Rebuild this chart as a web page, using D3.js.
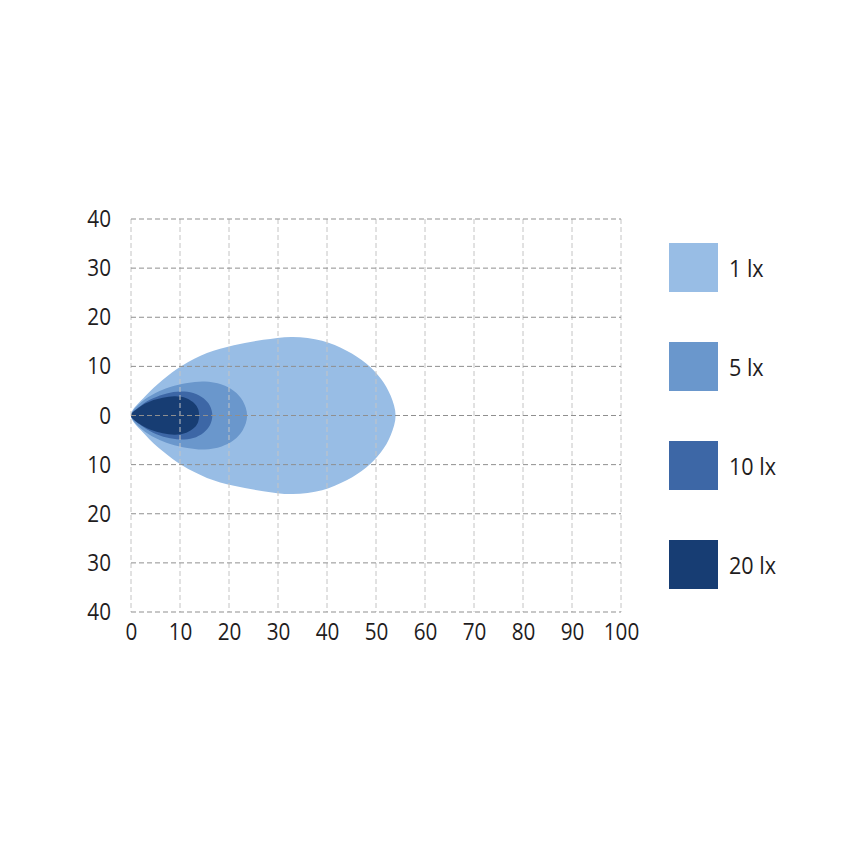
<!DOCTYPE html>
<html>
<head>
<meta charset="utf-8">
<script src="https://cdn.jsdelivr.net/npm/d3@7"></script>
<style>
  html, body { margin: 0; padding: 0; background: #ffffff; }
  svg { display: block; }
  text { font-family: "Open Sans", "Lato", sans-serif; fill: #1f1d1e; }
</style>
</head>
<body>
<svg id="chart" width="854" height="854"></svg>
<script>
// ---- data ----
const levels = ["1 lx", "5 lx", "10 lx", "20 lx"];
const colors = ["#98bde5", "#6a97cc", "#3d67a6", "#173d73"];
const xTicks = [0, 10, 20, 30, 40, 50, 60, 70, 80, 90, 100];
const yTicks = [-40, -30, -20, -10, 0, 10, 20, 30, 40];

// upper half outline of each isolux zone (symmetric about y = 0)
const lx1X  = [0, 2.9, 6.5, 10.5, 15.5, 21, 27, 33, 39, 44, 48, 51, 53, 54];
const lx1Y  = [0, 3.9, 7.3, 10.2, 12.7, 14.3, 15.4, 16.0, 15.2, 13.2, 10.6, 7.5, 4.0, 0];
const lx5X  = [0, 2.2, 5, 8, 11.5, 15, 18.5, 21, 22.8, 23.7];
const lx5Y  = [0, 2.8, 4.6, 5.8, 6.6, 6.9, 6.3, 5.0, 3.0, 0];
const lx10X = [0, 2, 4.5, 7.3, 10, 12.7, 14.8, 16.1, 16.6];
const lx10Y = [0, 2.0, 3.5, 4.5, 4.9, 4.6, 3.5, 2.0, 0];
const lx20X = [0, 1.7, 4, 6.5, 9, 11.3, 13, 13.7, 13.9];
const lx20Y = [0, 1.7, 2.9, 3.6, 3.9, 3.5, 2.4, 1.3, 0];

const profilesX = [lx1X, lx5X, lx10X, lx20X];
const profilesY = [lx1Y, lx5Y, lx10Y, lx20Y];

// ---- chart ----
const SX = 0.88; // horizontal condensing of labels
const svg = d3.select("#chart");
const x = d3.scaleLinear().domain([0, 100]).range([131, 621]);
const y = d3.scaleLinear().domain([-40, 40]).range([612, 219]);

// shapes
const line = d3.line().x(d => x(d[0])).y(d => y(d[1])).curve(d3.curveCatmullRomClosed.alpha(0.5));
profilesX.forEach((px, i) => {
  const py = profilesY[i];
  const upper = px.map((v, k) => [v, py[k]]);
  const lower = [];
  for (let k = px.length - 2; k >= 1; k--) lower.push([px[k], -py[k]]);
  svg.append("path")
    .attr("d", line(upper.concat(lower)))
    .attr("fill", colors[i]);
});

// grid
const grid = svg.append("g");
grid.selectAll(".v").data(xTicks).join("line")
  .attr("x1", d => x(d)).attr("x2", d => x(d))
  .attr("y1", y(40)).attr("y2", y(-40))
  .attr("stroke", "#c4c4c4").attr("stroke-width", 1)
  .attr("stroke-dasharray", "5,3");
grid.selectAll(".h").data(yTicks).join("line")
  .attr("x1", x(0)).attr("x2", x(100))
  .attr("y1", d => y(d)).attr("y2", d => y(d))
  .attr("stroke", "#8f8f8f").attr("stroke-width", 1)
  .attr("stroke-dasharray", "5,3");

// axes
const yAxis = d3.axisLeft(y).tickValues(yTicks).tickSize(0).tickPadding(20)
  .tickFormat(d => Math.abs(d));
const gy = svg.append("g").attr("transform", `translate(${x(0)},0)`).call(yAxis);
gy.select(".domain").remove();
gy.selectAll("g.tick text").attr("x", -20 / SX).attr("transform", `scale(${SX},1)`);

const xAxis = d3.axisBottom(x).tickValues(xTicks).tickSize(0).tickPadding(11);
const gx = svg.append("g").attr("transform", `translate(0,${y(-40)})`).call(xAxis);
gx.select(".domain").remove();
gx.selectAll("g.tick text").attr("transform", `scale(${SX},1)`);

svg.selectAll("g.tick text").attr("font-family", null).attr("font-size", 23.5).attr("fill", "#1f1d1e");

// legend
const legY = [243, 342, 441, 540];
const leg = svg.append("g");
levels.forEach((lab, i) => {
  leg.append("rect").attr("x", 669).attr("y", legY[i]).attr("width", 49).attr("height", 49)
    .attr("fill", colors[i]);
  leg.append("g").attr("transform", `translate(729,${legY[i] + 25})`)
    .append("text").attr("transform", `scale(${SX},1)`)
    .attr("dy", "0.35em").attr("font-size", 24.5).text(lab);
});
</script>
</body>
</html>
